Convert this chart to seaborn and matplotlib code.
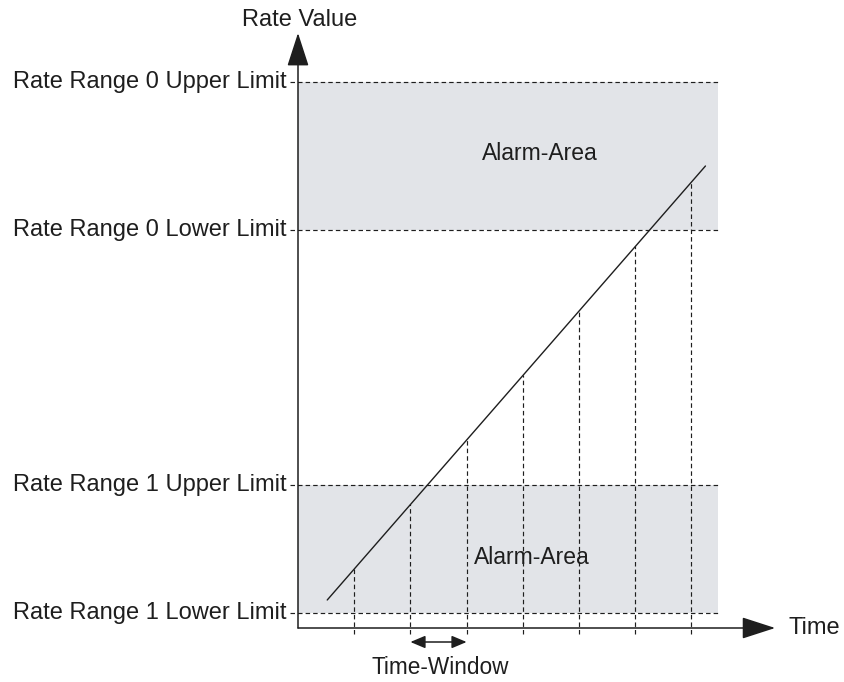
import matplotlib
matplotlib.use("Agg")
import matplotlib.pyplot as plt
import seaborn as sns
import pandas as pd

sns.set_theme(style="white")
plt.rcParams['font.family'] = ['Liberation Sans', 'DejaVu Sans']

# --- data (time in windows, rate in arbitrary units) ---
limit_labels = ["Rate Range 0 Upper Limit", "Rate Range 0 Lower Limit",
                "Rate Range 1 Upper Limit", "Rate Range 1 Lower Limit"]
limit_values = [54.6, 39.8, 14.3, 1.5]

alarm_low = [39.8, 1.5]
alarm_high = [54.6, 14.3]
alarm_end = 7.47

trend_time = [0.52, 7.25]
trend_rate = [2.8, 46.2]

window_ticks = [1, 2, 3, 4, 5, 6, 7]
window_rate = [5.9, 12.4, 18.9, 25.3, 31.7, 38.2, 44.6]

x_arrow_end = 8.49
y_arrow_end = 59.5

ink = "#1e1e1e"
shade = "#e2e4e8"

fig = plt.figure(figsize=(8.45, 6.82), dpi=100)
ax = fig.add_axes([0, 0, 1, 1])

# alarm areas
for lo, hi in zip(alarm_low, alarm_high):
    ax.fill_between([0, alarm_end], lo, hi, color=shade, lw=0, zorder=0)

ax.text(4.31, 47.5, "Alarm-Area", ha='center', va='center', fontsize=16.5, color=ink, zorder=1)
ax.text(4.16, 7.0, "Alarm-Area", ha='center', va='center', fontsize=16.5, color=ink, zorder=1)

# limit lines + labels
dash = (0, (3.8, 2.6))
for lab, val in zip(limit_labels, limit_values):
    ax.plot([-0.142, alarm_end], [val, val], color=ink, lw=0.85, linestyle=dash, zorder=2)
    ax.text(-0.196, val, lab, ha='right', va='center', fontsize=17, color=ink)

# time window markers
ax.vlines(window_ticks, -0.6, window_rate, color=ink, lw=0.85, linestyles=[dash], zorder=2)

# trend line
df = pd.DataFrame({"time": trend_time, "rate": trend_rate})
sns.lineplot(data=df, x="time", y="rate", ax=ax, color=ink, lw=1.0, zorder=3)

# axes with arrowheads
head = dict(arrowstyle="-|>,head_length=2.1,head_width=0.68", mutation_scale=10,
            color=ink, lw=1.1, shrinkA=0, shrinkB=0)
ax.annotate("", xy=(0, y_arrow_end), xytext=(0, 0), arrowprops=head, zorder=4)
ax.annotate("", xy=(x_arrow_end, 0), xytext=(0, 0), arrowprops=head, zorder=4)
ax.text(0.036, 60.8, "Rate Value", ha='center', va='center', fontsize=17, color=ink)
ax.text(8.72, 0.0, "Time", ha='left', va='center', fontsize=17, color=ink)

# time-window arrow
small = dict(arrowstyle="<|-|>,head_length=0.9,head_width=0.38", mutation_scale=10,
             color=ink, lw=1.1, shrinkA=0, shrinkB=0)
ax.annotate("", xy=(3, -1.4), xytext=(2, -1.4), arrowprops=small)
ax.text(2.54, -4.0, "Time-Window", ha='center', va='center', fontsize=16.3, color=ink)

ax.set_xlim(-298 / 56.2, (845 - 298) / 56.2)
ax.set_ylim(-5.4, 62.8)
ax.axis('off')

fig.savefig("out.png", dpi=100)
